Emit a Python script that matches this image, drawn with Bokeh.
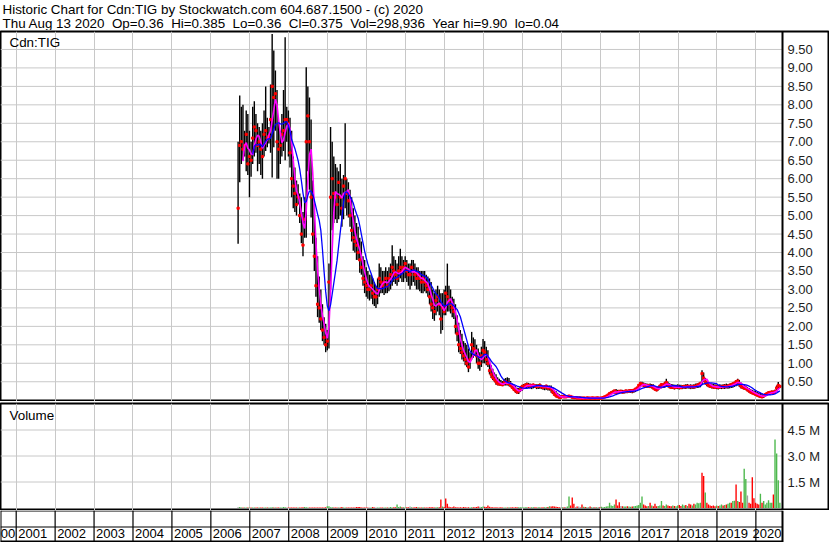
import numpy as np
from bokeh.plotting import figure
from bokeh.layouts import column
from bokeh.models import Range1d, ColumnDataSource, Grid, FixedTicker, Span
from bokeh.core.properties import value
from bokeh.embed import file_html
from bokeh.resources import INLINE

# ---------------- data (semi-monthly bars) ----------------
start_year = 2006.70
bars_per_year = 24

high = [
    7.0, 8.25, 7.95, 8.0, 7.3, 7.85, 7.75, 7.3, 7.0, 7.95, 8.1, 7.75, 7.5, 7.4, 7.3, 7.5, 7.85, 8.5, 7.65, 7.4, 8.55, 9.92, 9.47, 8.93,
    8.4, 7.5, 7.3, 7.75, 8.4, 9.83, 7.95, 7.85, 7.65, 7.3, 6.6, 6.3, 5.95, 5.85, 5.6, 5.5, 5.1, 5.5, 9.02, 8.5, 8.2, 7.6, 5.95, 5.3,
    4.4, 3.9, 3.35, 3.0, 2.6, 2.25, 2.07, 1.9, 3.7, 7.4, 7.0, 6.6, 6.4, 6.3, 6.2, 6.4, 6.0, 6.1, 7.5, 6.0, 5.9, 5.7, 5.5, 5.2,
    5.0, 4.8, 4.7, 4.4, 4.3, 3.9, 3.8, 3.6, 3.5, 3.4, 3.4, 3.3, 3.2, 3.1, 3.3, 3.7, 3.6, 3.5, 3.5, 3.6, 3.5, 3.6, 3.7, 4.2,
    3.9, 3.8, 3.7, 3.9, 4.1, 3.9, 3.8, 3.9, 3.8, 3.7, 3.7, 3.8, 3.8, 3.7, 3.6, 3.6, 3.5, 3.5, 3.5, 3.5, 3.4, 3.35, 3.3, 3.2,
    3.0, 2.9, 3.0, 3.1, 3.0, 2.9, 2.9, 3.0, 3.1, 3.7, 3.1, 3.0, 2.8, 2.75, 2.6, 2.3, 2.1, 1.9, 1.8, 1.6, 1.55, 1.5, 1.4, 1.3,
    1.85, 1.7, 1.65, 1.5, 1.4, 1.3, 1.45, 1.66, 1.6, 1.45, 1.35, 1.1, 0.95, 0.85, 0.75, 0.7, 0.62, 0.58, 0.55, 0.52, 0.58, 0.6, 0.62, 0.6,
    0.52, 0.45, 0.42, 0.38, 0.34, 0.33, 0.38, 0.42, 0.44, 0.46, 0.48, 0.47, 0.45, 0.44, 0.45, 0.44, 0.43, 0.44, 0.45, 0.42, 0.4, 0.41, 0.42, 0.4,
    0.4, 0.4, 0.35, 0.28, 0.25, 0.2, 0.16, 0.14, 0.13, 0.13, 0.12, 0.12, 0.13, 0.12, 0.11, 0.1, 0.09, 0.09, 0.08, 0.08, 0.08, 0.08, 0.07, 0.08,
    0.08, 0.08, 0.08, 0.08, 0.08, 0.09, 0.08, 0.08, 0.08, 0.09, 0.1, 0.12, 0.16, 0.2, 0.24, 0.26, 0.28, 0.3, 0.28, 0.27, 0.28, 0.28, 0.27, 0.28,
    0.28, 0.29, 0.3, 0.29, 0.3, 0.32, 0.35, 0.42, 0.5, 0.5, 0.48, 0.46, 0.45, 0.44, 0.45, 0.44, 0.43, 0.38, 0.35, 0.38, 0.42, 0.46, 0.45, 0.5,
    0.58, 0.5, 0.46, 0.44, 0.43, 0.42, 0.42, 0.43, 0.42, 0.42, 0.41, 0.42, 0.43, 0.44, 0.42, 0.43, 0.42, 0.43, 0.45, 0.46, 0.47, 0.5, 0.81, 0.75,
    0.6, 0.52, 0.48, 0.46, 0.45, 0.44, 0.43, 0.42, 0.42, 0.43, 0.42, 0.43, 0.44, 0.45, 0.44, 0.45, 0.46, 0.48, 0.5, 0.55, 0.58, 0.55, 0.48, 0.44,
    0.42, 0.4, 0.36, 0.33, 0.3, 0.28, 0.26, 0.25, 0.22, 0.2, 0.2, 0.19, 0.16, 0.18, 0.2, 0.24, 0.25, 0.26, 0.26, 0.28, 0.4, 0.49, 0.385,
]
low = [
    4.24, 5.9, 6.4, 6.5, 6.6, 6.2, 6.1, 5.5, 6.05, 6.4, 6.6, 6.7, 6.2, 6.4, 6.1, 6.0, 6.6, 6.75, 6.85, 6.95, 6.7, 6.03, 6.85, 7.3,
    6.0, 6.0, 6.4, 6.6, 6.75, 6.5, 7.0, 6.6, 6.3, 5.5, 5.2, 5.1, 5.0, 5.3, 4.8, 4.25, 3.9, 4.4, 4.4, 6.2, 5.7, 4.95, 4.24, 3.5,
    2.8, 2.25, 2.1, 1.9, 1.6, 1.5, 1.3, 1.35, 1.4, 3.0, 4.6, 4.8, 4.9, 4.8, 4.9, 5.0, 4.7, 4.9, 5.2, 5.0, 4.95, 4.7, 4.3, 4.05,
    4.0, 3.8, 3.8, 3.45, 3.4, 3.1, 2.9, 2.8, 2.75, 2.7, 2.75, 2.6, 2.55, 2.5, 2.6, 2.8, 2.9, 2.9, 2.85, 2.9, 2.9, 2.95, 3.0, 3.1,
    3.2, 3.15, 3.1, 3.2, 3.3, 3.2, 3.2, 3.3, 3.2, 3.1, 3.0, 3.1, 3.2, 3.1, 3.0, 3.0, 2.95, 2.9, 2.9, 2.95, 2.9, 2.8, 2.6, 2.4,
    2.2, 2.15, 2.3, 2.4, 2.3, 1.8, 1.9, 2.3, 2.3, 2.4, 2.4, 2.35, 2.25, 2.2, 1.8, 1.6, 1.3, 1.25, 1.1, 1.05, 0.95, 0.9, 0.76, 0.85,
    1.1, 1.15, 1.2, 1.0, 0.85, 0.8, 0.9, 1.0, 1.0, 0.95, 0.9, 0.7, 0.6, 0.55, 0.5, 0.42, 0.4, 0.4, 0.4, 0.38, 0.4, 0.4, 0.4, 0.38,
    0.35, 0.3, 0.25, 0.2, 0.18, 0.17, 0.22, 0.25, 0.3, 0.3, 0.32, 0.33, 0.32, 0.3, 0.32, 0.33, 0.3, 0.3, 0.31, 0.3, 0.28, 0.27, 0.28, 0.26,
    0.26, 0.2, 0.17, 0.12, 0.08, 0.06, 0.05, 0.05, 0.07, 0.07, 0.06, 0.07, 0.07, 0.06, 0.06, 0.05, 0.05, 0.05, 0.04, 0.04, 0.04, 0.04, 0.04, 0.04,
    0.04, 0.04, 0.04, 0.04, 0.04, 0.04, 0.04, 0.04, 0.04, 0.05, 0.06, 0.08, 0.1, 0.13, 0.16, 0.17, 0.18, 0.18, 0.17, 0.18, 0.19, 0.18, 0.18, 0.19,
    0.19, 0.2, 0.2, 0.19, 0.2, 0.22, 0.25, 0.3, 0.35, 0.38, 0.36, 0.35, 0.33, 0.34, 0.33, 0.32, 0.3, 0.26, 0.24, 0.26, 0.3, 0.32, 0.33, 0.34,
    0.38, 0.35, 0.32, 0.3, 0.3, 0.29, 0.3, 0.3, 0.29, 0.3, 0.3, 0.31, 0.3, 0.32, 0.31, 0.3, 0.31, 0.3, 0.32, 0.33, 0.34, 0.35, 0.42, 0.5,
    0.42, 0.38, 0.35, 0.33, 0.32, 0.31, 0.3, 0.3, 0.29, 0.3, 0.3, 0.31, 0.3, 0.32, 0.31, 0.32, 0.33, 0.34, 0.36, 0.38, 0.4, 0.36, 0.32, 0.3,
    0.28, 0.27, 0.24, 0.2, 0.18, 0.16, 0.14, 0.12, 0.1, 0.08, 0.07, 0.06, 0.06, 0.1, 0.13, 0.14, 0.15, 0.16, 0.17, 0.18, 0.22, 0.3, 0.36,
]
close = [
    5.2, 6.9, 7.0, 6.8, 6.9, 7.2, 6.4, 6.6, 6.5, 7.1, 7.4, 7.3, 6.9, 7.0, 6.8, 6.6, 7.2, 7.3, 7.1, 7.15, 7.6, 8.5, 8.2, 8.3,
    7.0, 6.8, 6.9, 7.2, 7.3, 7.6, 7.6, 7.5, 6.7, 6.0, 5.8, 5.6, 5.3, 5.5, 5.0, 4.5, 4.2, 4.9, 7.0, 7.7, 7.0, 5.5, 4.5, 3.9,
    3.1, 2.6, 2.5, 2.2, 1.9, 1.7, 1.5, 1.6, 3.2, 5.5, 6.0, 5.6, 5.5, 5.3, 5.9, 5.5, 5.2, 5.8, 6.0, 5.6, 5.4, 5.0, 4.6, 4.4,
    4.3, 4.2, 4.0, 3.8, 3.6, 3.3, 3.2, 3.1, 3.0, 3.0, 3.1, 2.9, 2.8, 2.8, 3.0, 3.3, 3.2, 3.1, 3.2, 3.3, 3.1, 3.3, 3.4, 3.6,
    3.5, 3.4, 3.3, 3.5, 3.6, 3.5, 3.6, 3.7, 3.5, 3.4, 3.4, 3.6, 3.5, 3.4, 3.3, 3.4, 3.3, 3.2, 3.3, 3.2, 3.1, 3.0, 2.8, 2.6,
    2.5, 2.4, 2.7, 2.8, 2.6, 2.2, 2.5, 2.4, 2.9, 2.8, 2.7, 2.6, 2.5, 2.4, 2.0, 1.8, 1.5, 1.4, 1.3, 1.2, 1.1, 1.0, 0.9, 1.1,
    1.5, 1.4, 1.35, 1.2, 1.0, 1.0, 1.2, 1.35, 1.3, 1.1, 1.0, 0.8, 0.7, 0.62, 0.56, 0.5, 0.45, 0.44, 0.43, 0.42, 0.48, 0.5, 0.45, 0.46,
    0.4, 0.35, 0.3, 0.26, 0.22, 0.25, 0.3, 0.36, 0.38, 0.4, 0.42, 0.4, 0.38, 0.4, 0.41, 0.39, 0.37, 0.38, 0.4, 0.36, 0.35, 0.36, 0.38, 0.33,
    0.34, 0.3, 0.22, 0.16, 0.12, 0.1, 0.08, 0.08, 0.1, 0.09, 0.09, 0.1, 0.11, 0.1, 0.08, 0.07, 0.07, 0.06, 0.06, 0.06, 0.05, 0.06, 0.05, 0.06,
    0.06, 0.05, 0.06, 0.06, 0.05, 0.06, 0.06, 0.05, 0.06, 0.07, 0.09, 0.11, 0.14, 0.18, 0.2, 0.22, 0.25, 0.22, 0.21, 0.24, 0.24, 0.22, 0.23, 0.25,
    0.24, 0.25, 0.26, 0.25, 0.27, 0.3, 0.33, 0.4, 0.45, 0.43, 0.41, 0.4, 0.38, 0.4, 0.37, 0.38, 0.33, 0.3, 0.28, 0.32, 0.38, 0.42, 0.4, 0.44,
    0.48, 0.4, 0.37, 0.35, 0.36, 0.34, 0.35, 0.36, 0.35, 0.34, 0.36, 0.37, 0.36, 0.38, 0.37, 0.36, 0.37, 0.36, 0.38, 0.4, 0.42, 0.45, 0.72, 0.6,
    0.5, 0.45, 0.4, 0.38, 0.37, 0.36, 0.35, 0.36, 0.35, 0.36, 0.37, 0.36, 0.38, 0.37, 0.38, 0.4, 0.42, 0.44, 0.46, 0.5, 0.52, 0.44, 0.38, 0.35,
    0.33, 0.32, 0.28, 0.25, 0.22, 0.2, 0.18, 0.16, 0.14, 0.12, 0.1, 0.09, 0.12, 0.15, 0.18, 0.2, 0.21, 0.22, 0.21, 0.24, 0.33, 0.4, 0.375,
]
# volume in thousands of shares
volume_k = [
    40, 60, 35, 30, 25, 30, 35, 30, 25, 30, 35, 30, 25, 30, 30, 35, 30, 25, 30, 30, 35, 40, 35, 30,
    30, 35, 30, 30, 55, 50, 35, 30, 30, 35, 30, 30, 35, 30, 30, 35, 40, 55, 40, 35, 30, 35, 30, 35,
    30, 35, 30, 30, 35, 30, 40, 100, 95, 50, 40, 35, 30, 35, 30, 35, 60, 35, 30, 35, 30, 35, 30, 30,
    35, 60, 55, 60, 35, 30, 35, 30, 35, 30, 35, 60, 35, 30, 30, 35, 30, 35, 30, 35, 30, 35, 60, 35,
    40, 50, 200, 60, 90, 50, 40, 35, 40, 45, 90, 40, 35, 40, 60, 40, 35, 30, 40, 35, 30, 35, 40, 45,
    40, 35, 40, 45, 50, 490, 90, 60, 550, 240, 70, 50, 45, 90, 45, 40, 35, 40, 35, 60, 40, 35, 40, 35,
    50, 40, 45, 60, 80, 70, 60, 90, 70, 60, 145, 70, 50, 40, 35, 40, 30, 35, 40, 30, 35, 30, 35, 40,
    35, 40, 35, 45, 40, 50, 45, 40, 35, 40, 45, 40, 35, 40, 45, 40, 35, 50, 40, 35, 45, 40, 50, 60,
    100, 80, 100, 90, 70, 60, 50, 45, 50, 40, 60, 80, 660, 150, 605, 240, 60, 80, 90, 60, 200, 70, 60, 50,
    60, 80, 50, 60, 40, 50, 60, 40, 70, 50, 60, 80, 100, 300, 150, 120, 200, 490, 150, 335, 120, 100, 80, 90,
    100, 80, 70, 90, 100, 120, 150, 180, 300, 665, 200, 150, 100, 120, 300, 150, 100, 250, 100, 120, 150, 400, 150, 120,
    200, 150, 120, 100, 150, 120, 100, 150, 180, 120, 200, 150, 180, 120, 250, 200, 150, 250, 200, 300, 280, 300, 2030, 1850,
    900, 300, 200, 150, 120, 150, 100, 150, 120, 150, 200, 150, 180, 200, 250, 300, 300, 400, 420, 1360, 400, 350, 950, 300,
    2260, 1680, 720, 300, 250, 1780, 560, 300, 250, 200, 820, 300, 400, 200, 300, 450, 300, 300, 780, 3950, 3150, 1600, 300,
]
# bar colours that differ from the close-to-close rule
red_bars = [125, 128, 129, 206, 207, 212, 233, 235, 254, 257, 286, 287, 304, 307, 310, 317, 318, 330]
green_bars = [98, 204, 229, 249, 261, 283, 284, 285, 288, 305, 306, 312, 313, 322, 331, 332, 333, 334]
gray_bars = [106, 314]

price_ticks = [0.5, 1.0, 1.5, 2.0, 2.5, 3.0, 3.5, 4.0, 4.5, 5.0, 5.5, 6.0, 6.5, 7.0, 7.5, 8.0, 8.5, 9.0, 9.5]
price_tick_labels = ["%.2f" % v for v in price_ticks]
vol_ticks = [1.5e6, 3.0e6, 4.5e6]
vol_tick_labels = ["1.5 M", "3.0 M", "4.5 M"]
year_lines = list(range(2001, 2021))
year_labels = [str(y) for y in range(2000, 2021)]

SP2 = "\u00a0 "   # a visible double space
header_1 = "Historic Chart for Cdn:TIG by Stockwatch.com 604.687.1500 - (c) 2020"
header_2 = SP2.join(["Thu Aug 13 2020", "Op=0.36", "Hi=0.385", "Lo=0.36", "Cl=0.375",
                     "Vol=298,936", "Year hi=9.90", "lo=0.04"])

# ---------------- derived ----------------
n = min(len(high), len(low), len(close), len(volume_k))
t = start_year + np.arange(n) / bars_per_year
hi = np.array(high[:n]); lo = np.array(low[:n]); cl = np.array(close[:n])
vol = np.array(volume_k[:n]) * 1000.0

def sma(a, w):
    out = np.full(len(a), np.nan)
    out[w - 1:] = np.convolve(a, np.ones(w) / w, mode="valid")
    return out

ma_fast = sma(cl, 4)
ma_slow = sma(cl, 10)

GREEN, RED, GRAY = "#4cb84c", "#ff0000", "#a0a0a0"
vcol = []
for i in range(n):
    if i == 0 or cl[i] == cl[i - 1]:
        c = GRAY
    elif cl[i] > cl[i - 1]:
        c = GREEN
    else:
        c = RED
    if i in red_bars: c = RED
    if i in green_bars: c = GREEN
    if i in gray_bars: c = GRAY
    vcol.append(c)

# ---------------- geometry ----------------
W = 829
PX_YEAR = 38.93
PX = 1.0 / PX_YEAR                  # one pixel, in years
X0 = 2001 - 15.7 * PX               # year at the left edge
X_SEP = 2001 + 766.3 * PX           # right edge of the plotting area
FONT = "Liberation Sans"
GRID = "#c8c8c8"
LBL = "#1e1e1e"

full_x = Range1d(X0, X0 + W * PX)

def base_fig(h, xr, yr, mbt=0, outline="black"):
    p = figure(width=W, height=h, x_range=xr, y_range=yr, output_backend="svg",
               toolbar_location=None, x_axis_location=None, y_axis_location=None,
               min_border_left=0, min_border_right=0, min_border_top=mbt, min_border_bottom=0,
               background_fill_color="white", border_fill_color="white")
    p.grid.visible = False
    p.outline_line_color = outline
    p.outline_line_width = 2
    return p

# header
hdr = base_fig(30, Range1d(0, W), Range1d(0, 30), outline=None)
hdr.text(x=[2, 2], y=[21.5, 7], text=[header_1, header_2], text_font=value(FONT),
         text_font_size="13.4px", text_color="black", text_baseline="alphabetic")

# price panel (frame from y=31 to y=401 of the page)
p_top = (399.7 - 31) / 36.92
p_bot = -(401 - 399.7) / 36.92
pp = base_fig(371, full_x, Range1d(p_bot, p_top), mbt=1)
pp.add_layout(Grid(dimension=0, ticker=FixedTicker(ticks=year_lines), grid_line_color=GRID))
pp.segment(x0=[X0] * len(price_ticks), x1=[X_SEP] * len(price_ticks), y0=price_ticks, y1=price_ticks,
           line_color=GRID, line_width=1)
src = ColumnDataSource(dict(t=t, hi=hi, lo=lo, cl=cl, f=ma_fast, s=ma_slow))
pp.segment(x0="t", x1="t", y0="lo", y1="hi", source=src, line_color="black", line_width=1.4)
pp.scatter(x="t", y="cl", source=src, marker="square", size=2.2, color=RED)
pp.line(x="t", y="f", source=src, line_color="#ff00ff", line_width=1.6)
pp.line(x="t", y="s", source=src, line_color="#0000ff", line_width=1.3)
pp.add_layout(Span(location=X_SEP, dimension="height", line_color="black", line_width=2))
pp.text(x=[X_SEP] * len(price_ticks), y=price_ticks, text=price_tick_labels, x_offset=5,
        text_font=value(FONT), text_font_size="13px", text_color=LBL, text_baseline="middle")
pp.text(x=[X0], y=[p_top], text=["Cdn:TIG"], x_offset=9, y_offset=11, text_font=value(FONT),
        text_font_size="13.4px", text_color="black", text_baseline="alphabetic")

# volume panel (frame from y=403 to y=510 of the page)
v_top = (507.5 - 403) * 1.5e6 / 26
v_bot = -(510 - 507.5) * 1.5e6 / 26
vp = base_fig(109, full_x, Range1d(v_bot, v_top), mbt=2)
vp.add_layout(Grid(dimension=0, ticker=FixedTicker(ticks=year_lines), grid_line_color=GRID))
vp.segment(x0=[X0] * len(vol_ticks), x1=[X_SEP] * len(vol_ticks), y0=vol_ticks, y1=vol_ticks,
           line_color=GRID, line_width=1)
vsrc = ColumnDataSource(dict(t=t, v=vol, c=vcol))
vp.vbar(x="t", top="v", bottom=0, width=0.85 / bars_per_year, source=vsrc, fill_color="c", line_color=None)
vp.add_layout(Span(location=X_SEP, dimension="height", line_color="black", line_width=2))
vp.text(x=[X_SEP] * len(vol_ticks), y=vol_ticks, text=vol_tick_labels, x_offset=5,
        text_font=value(FONT), text_font_size="13px", text_color=LBL, text_baseline="middle")
vp.text(x=[X0], y=[v_top], text=["Volume"], x_offset=9, y_offset=12, text_font=value(FONT),
        text_font_size="13.4px", text_color="black", text_baseline="alphabetic")

# date strip (page rows 510..541)
sp = base_fig(32, full_x, Range1d(0, 32), outline=None)
sp.segment(x0=year_lines, x1=year_lines, y0=[0] * len(year_lines), y1=[32] * len(year_lines),
           line_color="black", line_width=1.2)
sp.segment(x0=[X0, X0, X0, X0, X_SEP], x1=[X_SEP, X_SEP, X_SEP, X0, X_SEP],
           y0=[31.5, 15.5, 1.0, 0, 0], y1=[31.5, 15.5, 1.0, 32, 32],
           line_color="black", line_width=[1.2, 1.2, 2, 2, 2])
mid = year_labels[1:-1]
sp.text(x=[int(y) for y in mid], y=[9.5] * len(mid), text=mid, x_offset=2,
        text_font=value(FONT), text_font_size="13px", text_color="black", text_baseline="middle")
sp.text(x=[2001, X_SEP], y=[9.5, 9.5], text=[year_labels[0], year_labels[-1]], x_offset=-1,
        text_font=value(FONT), text_font_size="13px", text_color="black", text_baseline="middle",
        text_align="right")

layout = column(hdr, pp, vp, sp, spacing=0)
open("out.html", "w").write(file_html(layout, INLINE))
